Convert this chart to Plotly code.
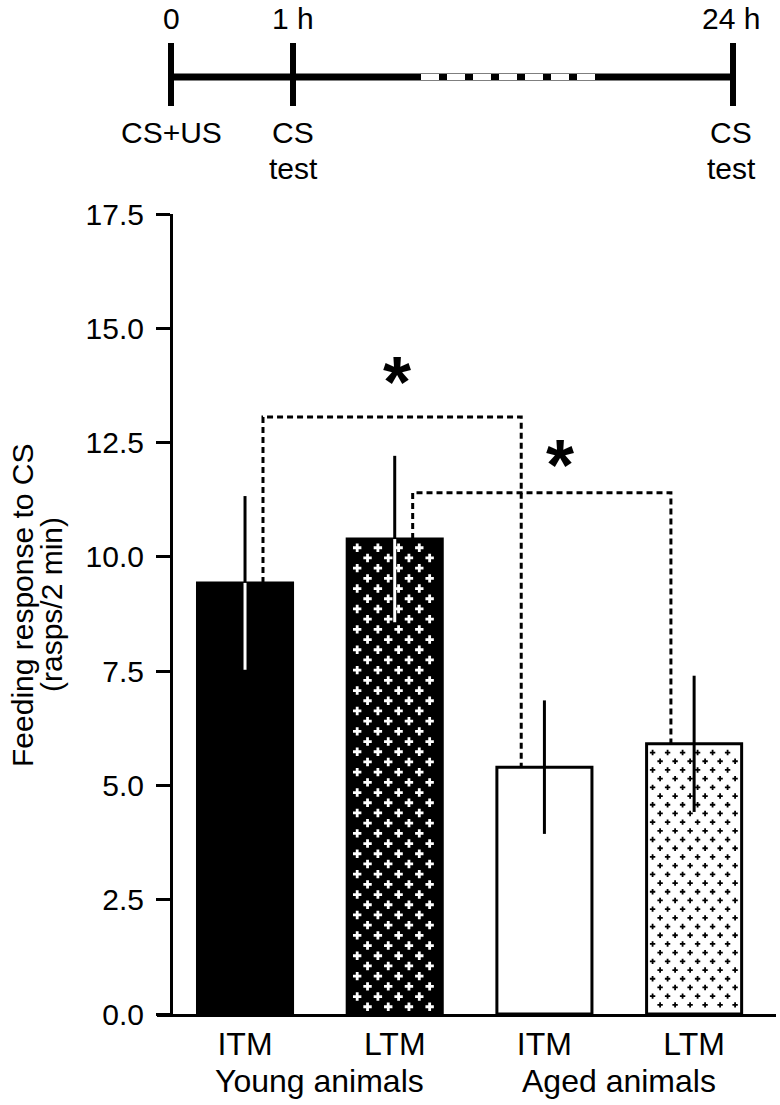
import plotly.graph_objects as go

# ---------------- data ----------------
conditions = ["ITM", "LTM", "ITM", "LTM"]
groups = ["Young animals", "Aged animals"]
means = [9.43, 10.39, 5.40, 5.91]
sems = [1.90, 1.82, 1.46, 1.49]
y_ticks = [0.0, 2.5, 5.0, 7.5, 10.0, 12.5, 15.0, 17.5]
y_title_lines = ["Feeding response to CS", "(rasps/2 min)"]
comparisons = [(0, 2), (1, 3)]
bracket_heights = [13.06, 11.40]
sig_labels = ["*", "*"]
timeline_top = ["0", "1 h", "24 h"]
timeline_bottom = [["CS+US"], ["CS", "test"], ["CS", "test"]]

# ---------------- style / layout ----------------
W, H = 780, 1105
FONT = "Liberation Sans, Arial, Helvetica, sans-serif"
fills = ["black", "black", "white", "white"]
inner_err_colors = ["white", "white", "black", "black"]
patterns = [None, dict(color="white", size=7, dx=20.7, dy=10.2, inset_x=10, inset_y=8.7),
            None, dict(color="black", size=4.5, dx=15.0, dy=8.7, inset_x=6, inset_y=8.7)]
bar_width = 0.635
x_range = [-0.588, 3.547]
x_dom = [157 / W, 776 / W]
y_dom = [(H - 1014) / H, (H - 214) / H]
y_range = [0, 17.5]
px_per_x = (x_dom[1] - x_dom[0]) * W / (x_range[1] - x_range[0])
px_per_y = (y_dom[1] - y_dom[0]) * H / (y_range[1] - y_range[0])
bracket_off = (0.12, -0.155)
star_x_off = [0.03, 0.12]
star_y_off = [0.76, 0.62]

def px(x):
    return x / W

def py(y):
    return 1 - y / H

fig = go.Figure()

# bars
xs = list(range(len(means)))
fig.add_trace(go.Bar(
    x=xs, y=means, width=bar_width,
    marker=dict(color=fills, line=dict(color="black", width=3)),
    showlegend=False, hoverinfo="skip"))

# plus-sign fill patterns (staggered lattice inside each patterned bar)
for i, pat in enumerate(patterns):
    if pat is None:
        continue
    left = i - bar_width / 2
    right = i + bar_width / 2
    dx = pat["dx"] / px_per_x
    dy = pat["dy"] / px_per_y
    px_pts, py_pts = [], []
    row = 0
    yv = means[i] - pat["inset_y"] / px_per_y
    while yv > 0.05:
        xv = left + pat["inset_x"] / px_per_x + (dx / 2 if row % 2 else 0)
        while xv < right - 3 / px_per_x:
            px_pts.append(xv)
            py_pts.append(yv)
            xv += dx
        yv -= dy
        row += 1
    fig.add_trace(go.Scatter(
        x=px_pts, y=py_pts, mode="markers",
        marker=dict(symbol="cross", size=pat["size"], color=pat["color"], line=dict(width=0)),
        showlegend=False, hoverinfo="skip"))

# error bars: upper part black, inner part contrasting
fig.add_trace(go.Scatter(
    x=xs, y=means, mode="markers", marker=dict(size=1, opacity=0),
    error_y=dict(type="data", array=sems, arrayminus=[0] * len(sems),
                 width=0, thickness=3, color="black"),
    showlegend=False, hoverinfo="skip"))
for col in sorted(set(inner_err_colors)):
    idx = [i for i, c in enumerate(inner_err_colors) if c == col]
    fig.add_trace(go.Scatter(
        x=[xs[i] for i in idx], y=[means[i] for i in idx], mode="markers",
        marker=dict(size=1, opacity=0),
        error_y=dict(type="data", array=[0] * len(idx), arrayminus=[sems[i] for i in idx],
                     width=0, thickness=3, color=col),
        showlegend=False, hoverinfo="skip"))

# significance brackets
for k, ((a, b), h) in enumerate(zip(comparisons, bracket_heights)):
    xl = a + bracket_off[0]
    xr = b + bracket_off[1]
    fig.add_trace(go.Scatter(
        x=[xl, xl, xr, xr], y=[means[a], h, h, means[b]], mode="lines",
        line=dict(color="black", width=3, dash="6px,4px"),
        showlegend=False, hoverinfo="skip"))
    fig.add_annotation(
        x=(xl + xr) / 2 + star_x_off[k], y=h + star_y_off[k], xref="x", yref="y",
        text="<b>%s</b>" % sig_labels[k], showarrow=False,
        font=dict(size=72, family=FONT, color="black"),
        xanchor="center", yanchor="middle")

# group labels
for g, name in enumerate(groups):
    fig.add_annotation(
        x=2 * g + 0.5, y=py(1081), xref="x", yref="paper", text=name, showarrow=False,
        font=dict(size=32, family=FONT, color="black"), xanchor="center", yanchor="middle")

# y-axis title (two rotated lines)
for k, line in enumerate(y_title_lines):
    fig.add_annotation(
        x=px(22 + 29 * k), y=py(605), xref="paper", yref="paper", text=line,
        textangle=-90, showarrow=False,
        font=dict(size=30, family=FONT, color="black"),
        xanchor="center", yanchor="middle")

# ---------------- timeline schematic ----------------
tl_x = [171, 293, 733]
tl_line_y = 77
shapes = [dict(type="line", xref="paper", yref="paper", x0=px(tl_x[0]), x1=px(tl_x[-1]),
               y0=py(tl_line_y), y1=py(tl_line_y), line=dict(color="black", width=7))]
for xv in tl_x:
    shapes.append(dict(type="line", xref="paper", yref="paper", x0=px(xv), x1=px(xv),
                       y0=py(43), y1=py(106), line=dict(color="black", width=6)))
shapes.append(dict(type="line", xref="paper", yref="paper", x0=px(421), x1=px(596),
                   y0=py(tl_line_y), y1=py(tl_line_y),
                   line=dict(color="white", width=6, dash="18px,8px")))
label_dx = [0, 0, -2]
for xv, dxl, top, bottom in zip(tl_x, label_dx, timeline_top, timeline_bottom):
    fig.add_annotation(x=px(xv + dxl), y=py(18), xref="paper", yref="paper", text=top,
                       showarrow=False, font=dict(size=30, family=FONT, color="black"),
                       xanchor="center", yanchor="middle")
    for j, t in enumerate(bottom):
        fig.add_annotation(x=px(xv + dxl), y=py(132 + 36 * j), xref="paper", yref="paper",
                           text=t, showarrow=False,
                           font=dict(size=30, family=FONT, color="black"),
                           xanchor="center", yanchor="middle")

fig.update_layout(
    width=W, height=H, margin=dict(l=0, r=0, t=0, b=0, pad=0, autoexpand=False),
    paper_bgcolor="white", plot_bgcolor="white", showlegend=False,
    shapes=shapes, bargap=0,
    font=dict(family=FONT, color="black"),
    xaxis=dict(domain=x_dom, range=x_range, showline=True, linewidth=3, linecolor="black",
               tickmode="array", tickvals=xs, ticktext=conditions, ticks="",
               tickfont=dict(size=32, family=FONT, color="black"), automargin=False,
               showgrid=False, zeroline=False, fixedrange=True),
    yaxis=dict(domain=y_dom, range=y_range, anchor="free", position=px(171),
               showline=True, linewidth=3, linecolor="black", automargin=False,
               tickmode="array", tickvals=y_ticks, ticktext=["%.1f" % v for v in y_ticks],
               ticks="outside", ticklen=14, tickwidth=3, tickcolor="black",
               ticklabelstandoff=6,
               tickfont=dict(size=30, family=FONT, color="black"),
               showgrid=False, zeroline=False, fixedrange=True),
)

fig.write_html(
    "out.html",
    config={"displayModeBar": False, "staticPlot": True},
    post_script="document.body.style.margin='0';document.body.style.overflow='hidden';",
)
